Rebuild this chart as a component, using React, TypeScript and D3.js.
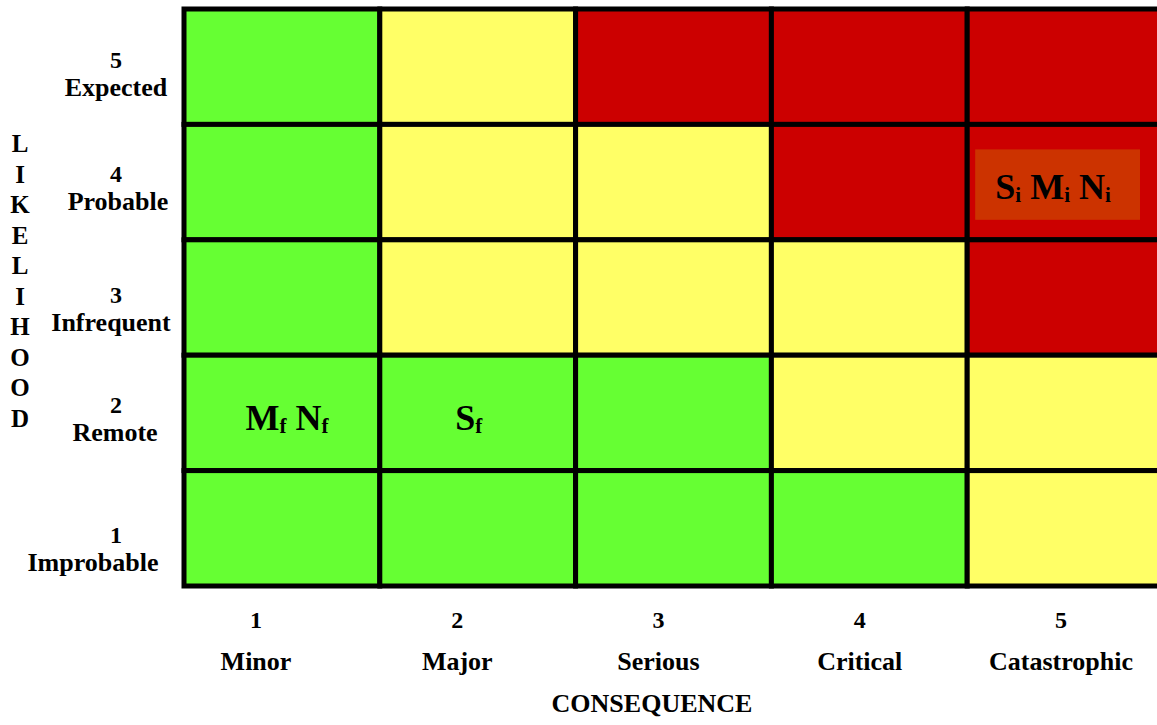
import React from "react";
import * as d3 from "d3";

const consequenceLevels = [1, 2, 3, 4, 5];
const consequenceNames = ["Minor", "Major", "Serious", "Critical", "Catastrophic"];
const likelihoodLevels = [5, 4, 3, 2, 1];
const likelihoodNames = ["Expected", "Probable", "Infrequent", "Remote", "Improbable"];
// risk rating per likelihood row (5..1) and consequence column (1..5): G=low, Y=medium, R=high
const riskMatrix = [
  ["G", "Y", "R", "R", "R"],
  ["G", "Y", "Y", "R", "R"],
  ["G", "Y", "Y", "Y", "R"],
  ["G", "G", "G", "Y", "Y"],
  ["G", "G", "G", "G", "Y"],
];
// annotations: likelihood, consequence, items [letter, subscript]
const annotations = [
  { likelihood: 2, consequence: 1, items: [["M", "f"], ["N", "f"]], highlight: false },
  { likelihood: 2, consequence: 2, items: [["S", "f"]], highlight: false },
  { likelihood: 4, consequence: 5, items: [["S", "i"], ["M", "i"], ["N", "i"]], highlight: true },
];
const axisTitleX = "CONSEQUENCE";
const axisTitleY = "LIKELIHOOD";

const colors: Record<string, string> = { G: "#66FF33", Y: "#FFFF66", R: "#CC0000" };
const FONT = "'Liberation Serif', 'Times New Roman', serif";

// layout tweaks (not data)
const rowLabelDy = [1, 0, 5, 0, 15];
const rowNameDx = [0, 2, -5, -1, -23];
const annotDx: Record<string, number> = { "2-1": 5, "2-2": -9, "4-5": -12 };

export default function App() {
  const W = 1157, H = 725;
  const x = d3.scaleBand<number>().domain(consequenceLevels).range([184, 1163]);
  const y = d3.scaleBand<number>().domain(likelihoodLevels).range([9, 586]);
  const xl = d3.scalePoint<number>().domain(consequenceLevels).range([256, 1061]);
  const yLetters = d3.scalePoint<number>().domain(d3.range(axisTitleY.length)).range([152, 427]);

  const cells: { l: number; c: number; r: string }[] = [];
  likelihoodLevels.forEach((l, i) =>
    consequenceLevels.forEach((c, j) => cells.push({ l, c, r: riskMatrix[i][j] }))
  );

  return (
    <svg width={W} height={H} style={{ position: "absolute", left: 0, top: 0, background: "#fff" }} fontFamily={FONT} fontWeight="bold">
      {cells.map((d) => (
        <rect key={`${d.l}-${d.c}`} x={x(d.c)} y={y(d.l)} width={x.bandwidth()} height={y.bandwidth()}
          fill={colors[d.r]} stroke="#000" strokeWidth={5} />
      ))}
      {annotations.map((a) => {
        const key = `${a.likelihood}-${a.consequence}`;
        const cx = (x(a.consequence) as number) + x.bandwidth() / 2 + (annotDx[key] || 0);
        const cy = (y(a.likelihood) as number) + y.bandwidth() / 2;
        const x0 = x(a.consequence) as number;
        const y0 = y(a.likelihood) as number;
        return (
          <g key={key}>
            {a.highlight && (
              <rect x={x0 + 8} y={y0 + 25} width={x.bandwidth() - 31} height={y.bandwidth() - 45} fill="#CC3300" />
            )}
            <text x={cx} y={cy + 17} textAnchor="middle" fontSize={36} fill="#000">
              {a.items.map(([m, s], k) => (
                <React.Fragment key={k}>
                  <tspan dy={k > 0 ? -3 : 0}>{(k > 0 ? " " : "") + m}</tspan>
                  <tspan fontSize={21} dy={3}>{s}</tspan>
                </React.Fragment>
              ))}
            </text>
          </g>
        );
      })}
      {likelihoodLevels.map((l, i) => {
        const cy = (y(l) as number) + y.bandwidth() / 2 + rowLabelDy[i];
        return (
          <g key={`yl${l}`} fill="#000">
            <text x={116} y={cy} textAnchor="middle" fontSize={24}>{l}</text>
            <text x={116 + rowNameDx[i]} y={cy + 28} textAnchor="middle" fontSize={26}>{likelihoodNames[i]}</text>
          </g>
        );
      })}
      {consequenceLevels.map((c, i) => (
        <g key={`xl${c}`} fill="#000">
          <text x={xl(c)} y={628} textAnchor="middle" fontSize={24}>{c}</text>
          <text x={xl(c)} y={670} textAnchor="middle" fontSize={26}>{consequenceNames[i]}</text>
        </g>
      ))}
      <text x={652} y={712} textAnchor="middle" fontSize={26} fill="#000">{axisTitleX}</text>
      {axisTitleY.split("").map((ch, i) => (
        <text key={`lt${i}`} x={20} y={yLetters(i)} textAnchor="middle" fontSize={25} fill="#000">{ch}</text>
      ))}
    </svg>
  );
}
